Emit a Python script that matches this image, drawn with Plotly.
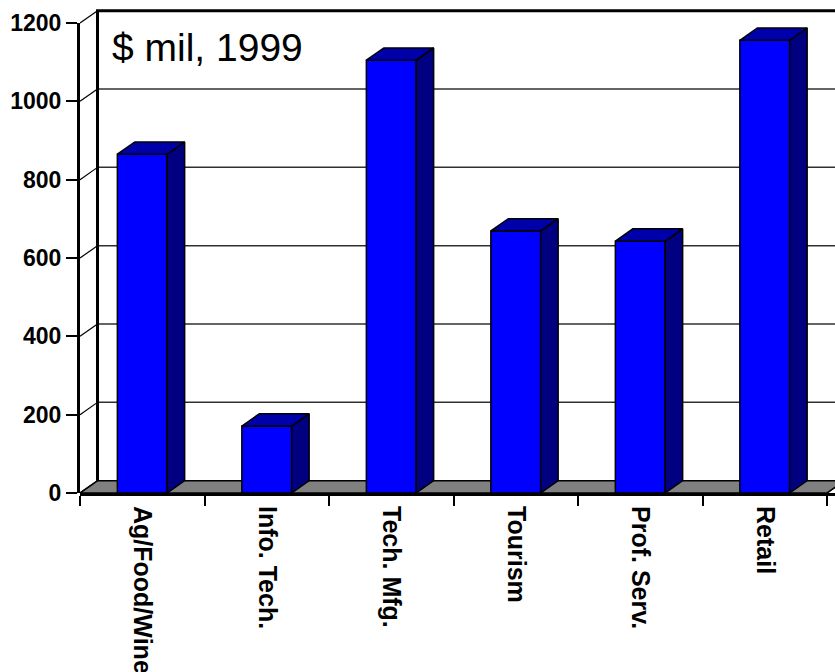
import plotly.graph_objects as go

# ---- data ----
categories = ["Ag/Food/Wine", "Info. Tech.", "Tech. Mfg.", "Tourism", "Prof. Serv.", "Retail"]
values = [865, 171, 1105, 669, 643, 1156]
y_ticks = [0, 200, 400, 600, 800, 1000, 1200]
title_text = "$ mil, 1999"

# ---- geometry ----
W, H = 835, 672
L, R, T, B = 80, 0, 4, 179
plot_w = W - L - R
plot_h = H - T - B
px_per_cat = 124.5
px_per_unit = 470 / 1200.0
x_max = plot_w / px_per_cat
y_max = plot_h / px_per_unit
y2_top = 1200 * px_per_unit / plot_h

DX = 17.5 / px_per_cat      # depth offset in category units
DY = 12.3 / px_per_unit     # depth offset in value units
HW = 0.2                    # half bar width
n = len(categories)
centers = [i + 0.5 for i in range(n)]
ymax_tick = max(y_ticks)

FONT = "Arial, 'Liberation Sans', sans-serif"
FRONT = "#0000FF"
SIDE = "#000080"
TOP = "#0000AA"

fig = go.Figure()

# floor
fig.add_trace(go.Scatter(
    x=[0, n, n + DX, DX, 0], y=[0, 0, DY, DY, 0], mode="lines",
    fill="toself", fillcolor="#808080", line=dict(color="black", width=1.5),
    hoverinfo="skip", showlegend=False, xaxis="x", yaxis="y"))

# back wall gridlines
gx, gy = [], []
for v in y_ticks[1:-1]:
    gx += [DX, n + DX, None]
    gy += [v + DY, v + DY, None]
fig.add_trace(go.Scatter(x=gx, y=gy, mode="lines",
                         line=dict(color="#303030", width=1.5),
                         hoverinfo="skip", showlegend=False))

# side wall diagonals
dx_, dy_ = [], []
for v in y_ticks:
    dx_ += [0, DX, None]
    dy_ += [v, v + DY, None]
dx_ += [n, n + DX, None]
dy_ += [0, DY, None]
fig.add_trace(go.Scatter(x=dx_, y=dy_, mode="lines",
                         line=dict(color="black", width=1.2),
                         hoverinfo="skip", showlegend=False))

# back wall frame (left edge + top edge)
fig.add_trace(go.Scatter(
    x=[DX, DX, n + DX + 1], y=[DY, ymax_tick + DY, ymax_tick + DY],
    mode="lines", line=dict(color="black", width=3),
    hoverinfo="skip", showlegend=False))

# bar front faces
fig.add_trace(go.Bar(
    x=centers, y=values, width=2 * HW, xaxis="x", yaxis="y2",
    marker=dict(color=FRONT, line=dict(color="black", width=1.5)),
    hoverinfo="skip", showlegend=False))

# bar side and top faces
for c, v in zip(centers, values):
    fig.add_trace(go.Scatter(
        x=[c + HW, c + HW + DX, c + HW + DX, c + HW, c + HW],
        y=[0, DY, v + DY, v, 0], mode="lines", fill="toself",
        fillcolor=SIDE, line=dict(color="black", width=1.5),
        hoverinfo="skip", showlegend=False, xaxis="x", yaxis="y2"))
    fig.add_trace(go.Scatter(
        x=[c - HW, c + HW, c + HW + DX, c - HW + DX, c - HW],
        y=[v, v, v + DY, v + DY, v], mode="lines", fill="toself",
        fillcolor=TOP, line=dict(color="black", width=1.5),
        hoverinfo="skip", showlegend=False, xaxis="x", yaxis="y2"))

fig.update_layout(
    width=W, height=H,
    margin=dict(l=L, r=R, t=T, b=B, pad=0, autoexpand=False),
    paper_bgcolor="white", plot_bgcolor="rgba(0,0,0,0)",
    font=dict(family=FONT, color="black"),
    showlegend=False,
    xaxis=dict(
        range=[0, x_max], anchor="y", automargin=False,
        tickmode="array", tickvals=centers, ticktext=categories,
        tickangle=90, ticks="outside", ticklen=5, tickcolor="rgba(0,0,0,0)",
        tickfont=dict(family=FONT, size=25, weight="bold", color="black"),
        showline=True, linewidth=3, linecolor="black",
        showgrid=False, zeroline=False,
        minor=dict(tickmode="array", tickvals=list(range(n + 1)),
                   ticks="outside", ticklen=10, tickwidth=2, tickcolor="black",
                   showgrid=False),
    ),
    yaxis=dict(
        range=[0, y_max], domain=[0, 1], anchor="x", automargin=False,
        showgrid=False, zeroline=False, showline=False,
        showticklabels=False, ticks="",
    ),
    yaxis2=dict(
        range=[0, ymax_tick + 0.01], domain=[0, y2_top], anchor="x",
        automargin=False,
        side="left", tickmode="array", tickvals=y_ticks,
        ticks="outside", ticklen=11, tickwidth=2, tickcolor="black",
        tickfont=dict(family=FONT, size=23, weight="bold", color="black"),
        showline=True, linewidth=3, linecolor="black",
        showgrid=False, zeroline=False,
    ),
    annotations=[dict(
        text=title_text, xref="paper", yref="paper",
        x=(110 - L) / plot_w, y=(H - B - 47) / plot_h,
        xanchor="left", yanchor="middle", showarrow=False,
        font=dict(family=FONT, size=39, color="black"),
    )],
)

fig.write_html("out.html")
